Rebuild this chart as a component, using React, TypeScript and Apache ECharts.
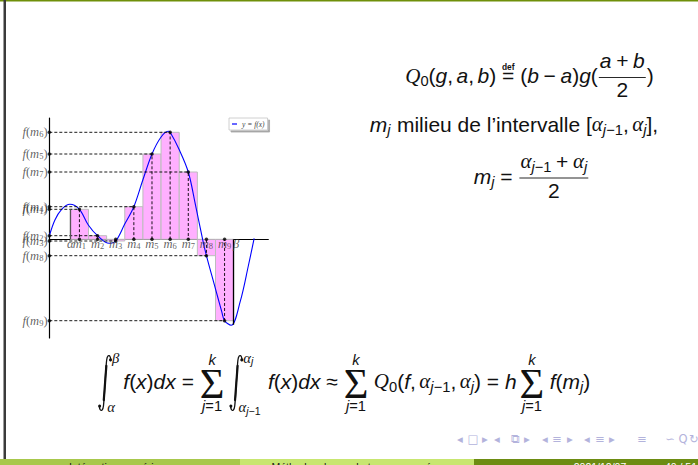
import React, { useEffect, useRef } from 'react';
import * as echarts from 'echarts';

const W = 698;
const H = 465;

// Partition points alpha_0 .. alpha_9 of [alpha, beta]
const alphas = [1.16, 2.16, 3.16, 4.16, 5.16, 6.16, 7.16, 8.16, 9.16, 10.16];
// Midpoints m_j and the values f(m_j)
const mids = [1.66, 2.66, 3.66, 4.66, 5.66, 6.66, 7.66, 8.66, 9.66];
const fMid = [3.0, 0.36, -0.17, 3.26, 8.53, 10.7, 6.73, -1.64, -8.14];
const midIndex = ['1', '2', '3', '4', '5', '6', '7', '8', '9'];
// Sampled points of y = f(x)
const curveX = [0, 0.31, 0.68, 1.14, 1.66, 2.15, 2.66, 3.3, 3.66, 4.15, 4.66, 5.15, 5.66, 6.15, 6.55, 6.66, 7.15, 7.66, 8.05, 8.45, 8.66, 9.05, 9.5, 9.66, 10.02, 10.52, 10.98, 11.29];
const curveY = [0.33, 1.93, 3.0, 3.5, 3.0, 1.43, 0.36, -0.4, -0.17, 1.5, 3.26, 5.9, 8.53, 10.2, 10.8, 10.7, 9.0, 6.73, 3.5, 0, -1.64, -4.24, -7.2, -8.14, -8.6, -6.24, -2.57, 0.1];
const alphaTop = 3.0;
const betaBottom = -8.55;
const xExtent = [0, 12.07];
const yExtent = [-9.87, 12.13];
const legendName = 'y = f(x)';
const footerTexts = ['Intégration numérique', 'Méthodes de quadrature composées', '2021/12/07', '40 / 51'];
const navGlyphs = ['◂', '□', '▸', '◂', '⧉', '▸', '◂', '≡', '▸', '◂', '≡', '▸', '≡', '∽', 'Q', '↻'];
const navX = [460, 473, 485, 497, 515, 527, 545, 557, 570, 587, 600, 612, 642, 670, 683, 694];

const SANS = '"Liberation Sans", Arial, sans-serif';
const SERIF = '"Liberation Serif", "DejaVu Serif", serif';
const INK = '#111111';

type St = { size: number; fam: string; it?: boolean; bold?: boolean };
type Box = { w: number; draw: (x: number, b: number, out: any[]) => void };

let mctx: CanvasRenderingContext2D | null = null;
function measure(s: string, st: St): number {
  if (!mctx) mctx = document.createElement('canvas').getContext('2d');
  mctx!.font = `${st.it ? 'italic ' : ''}${st.bold ? 'bold ' : ''}${st.size}px ${st.fam}`;
  return mctx!.measureText(s).width;
}

function textEl(s: string, st: St, x: number, y: number, fill = INK, align = 'left') {
  return {
    type: 'text', x, y, silent: true,
    style: {
      text: s, fill, fontSize: st.size, fontFamily: st.fam,
      fontStyle: st.it ? 'italic' : 'normal', fontWeight: st.bold ? 'bold' : 'normal',
      align, verticalAlign: 'middle',
    },
  };
}

function txt(s: string, st: St): Box {
  const w = measure(s, st);
  return { w, draw: (x, b, out) => out.push(textEl(s, st, x, b - 0.35 * st.size)) };
}
const sp = (w: number): Box => ({ w, draw: () => {} });
function row(...items: Box[]): Box {
  return {
    w: items.reduce((a, c) => a + c.w, 0),
    draw: (x, b, out) => {
      let cx = x;
      items.forEach((it) => { it.draw(cx, b, out); cx += it.w; });
    },
  };
}
function scripts(base: Box, sup: Box | null, sub: Box | null, up: number, down: number, subKern = 0): Box {
  const w = base.w + Math.max(sup ? sup.w : 0, sub ? sub.w + subKern : 0);
  return {
    w,
    draw: (x, b, out) => {
      base.draw(x, b, out);
      if (sup) sup.draw(x + base.w, b - up, out);
      if (sub) sub.draw(x + base.w + subKern, b + down, out);
    },
  };
}
function frac(num: Box, den: Box, axisH: number, numUp: number, denDown: number): Box {
  const pad = 2;
  const w = Math.max(num.w, den.w) + 2 * pad;
  return {
    w,
    draw: (x, b, out) => {
      const ay = b - axisH;
      out.push({ type: 'line', silent: true, shape: { x1: x + 1, y1: ay, x2: x + w - 1, y2: ay }, style: { stroke: INK, lineWidth: 0.9 } });
      num.draw(x + (w - num.w) / 2, ay - numUp, out);
      den.draw(x + (w - den.w) / 2, ay + denDown, out);
    },
  };
}
function integralSign(sup: Box | null, sub: Box | null, axisH: number, S: number): Box {
  const hI = 2.65 * S;
  const k = hI / 52;
  const gw = 12 * k;
  const supX = gw + 0.5;
  const subX = gw - 4 * k;
  const w = Math.max(gw, sup ? supX + sup.w : 0, sub ? subX + sub.w : 0) + 1;
  return {
    w,
    draw: (x, b, out) => {
      const ay = b - axisH;
      const top = ay - hI / 2;
      const P = (pts: number[][]) => pts.map(([px, py]) => [x + px * k, top + py * k]);
      out.push({ type: 'polyline', silent: true, shape: { points: P([[11.4, 4.4], [10.5, 1.0], [8.8, 0.6], [7.5, 4.5], [6, 26], [4.5, 47.5], [3.2, 51.4], [1.5, 51], [0.6, 47.6]]), smooth: 0.35 }, style: { stroke: INK, fill: 'none', lineWidth: 1.3 } });
      out.push({ type: 'polyline', silent: true, shape: { points: P([[7.2, 10], [6, 26], [4.8, 42]]) }, style: { stroke: INK, fill: 'none', lineWidth: 2.2, lineCap: 'round' } });
      const [e1, e2] = P([[11.1, 4.4], [0.9, 47.6]]);
      out.push({ type: 'circle', silent: true, shape: { cx: e1[0], cy: e1[1], r: 1.5 }, style: { fill: INK } });
      out.push({ type: 'circle', silent: true, shape: { cx: e2[0], cy: e2[1], r: 1.5 }, style: { fill: INK } });
      if (sup) sup.draw(x + supX, ay - 0.95 * S, out);
      if (sub) sub.draw(x + subX, ay + 1.4 * S, out);
    },
  };
}
function bigSum(top: Box, bot: Box, axisH: number, S: number): Box {
  const sig: St = { size: 2.02 * S, fam: SERIF };
  const gw = measure('Σ', sig);
  const w = Math.max(gw, top.w, bot.w);
  return {
    w,
    draw: (x, b, out) => {
      const ay = b - axisH;
      out.push(textEl('Σ', sig, x + (w - gw) / 2, ay));
      top.draw(x + (w - top.w) / 2, ay - 0.86 * S, out);
      bot.draw(x + (w - bot.w) / 2, ay + 1.35 * S, out);
    },
  };
}

function buildMath(): any[] {
  const out: any[] = [];
  const S = 21;
  const rm: St = { size: S, fam: SANS };
  const it: St = { size: S, fam: SANS, it: true };
  const gr: St = { size: S, fam: SERIF, it: true };
  const s1 = 0.7 * S;
  const s2 = 0.5 * S;
  const srm: St = { size: s1, fam: SANS };
  const sit: St = { size: s1, fam: SANS, it: true };
  const sgr: St = { size: s1, fam: SERIF, it: true };
  const ssrm: St = { size: s2, fam: SANS };
  const ssit: St = { size: s2, fam: SANS, it: true };
  const thin = S / 6;
  const med = (4 / 18) * S;
  const thick = (5 / 18) * S;
  const axisH = 0.27 * S;
  const down = 0.15 * S;
  const R = (t: string) => txt(t, rm);
  const I = (t: string) => txt(t, it);
  const G = (t: string) => txt(t, gr);
  const bin = (t: string) => row(sp(med), R(t), sp(med));
  const rel = (bx: Box) => row(sp(thick), bx, sp(thick));
  const comma = () => row(R(','), sp(thin));
  const jm1 = (st: St, st2: St) => row(txt('j', st), txt('−', st2), txt('1', st2));
  const alphaJm1 = () => scripts(G('α'), null, jm1(sit, srm), 0, down);
  const alphaJ = () => scripts(G('α'), null, txt('j', sit), 0, down);
  const mJ = () => scripts(I('m'), null, txt('j', sit), 0, down);
  const Q0 = () => scripts(txt('Q', { size: S, fam: SERIF, it: true }), null, txt('0', srm), 0, down);
  const defEq = (): Box => {
    const e = R('=');
    const d = txt('def', { size: 0.4 * S, fam: SANS, bold: true });
    return { w: e.w, draw: (x, b, o) => { e.draw(x, b, o); d.draw(x + (e.w - d.w) / 2, b - 0.64 * S, o); } };
  };
  const fr = (n: Box, d: Box) => frac(n, d, axisH, 0.45 * S, 0.93 * S);
  const place = (bx: Box, cx: number, base: number) => bx.draw(cx - bx.w / 2, base, out);

  // Q0(g,a,b) def= (b-a) g((a+b)/2)
  const line1 = row(
    Q0(), R('('), I('g'), comma(), I('a'), comma(), I('b'), R(')'),
    rel(defEq()),
    R('('), I('b'), bin('−'), I('a'), R(')'), I('g'), R('('),
    fr(row(I('a'), bin('+'), I('b')), R('2')),
    R(')'),
  );
  place(line1, 529.5, 77.5 + axisH);

  // m_j milieu de l'intervalle [alpha_{j-1}, alpha_j],
  const line2 = row(
    mJ(), sp(0.3 * S), R('milieu de l’intervalle'), sp(0.28 * S),
    R('['), alphaJm1(), comma(), alphaJ(), R(']'), R(','),
  );
  place(line2, 514, 131.5);

  // m_j = (alpha_{j-1} + alpha_j) / 2
  const line3 = row(mJ(), rel(R('=')), fr(row(alphaJm1(), bin('+'), alphaJ()), R('2')));
  place(line3, 531.5, 178 + axisH);

  // composite midpoint rule
  const fx = () => row(I('f'), R('('), I('x'), R(')'), I('d'), I('x'));
  const sumJ = () => bigSum(txt('k', sit), row(txt('j', sit), txt('=', srm), txt('1', srm)), axisH, S);
  const supAj = scripts(txt('α', sgr), null, txt('j', ssit), 0, 0.1 * S);
  const subAjm1 = scripts(txt('α', sgr), null, jm1(ssit, ssrm), 0, 0.1 * S);
  const line4 = row(
    integralSign(txt('β', sgr), txt('α', sgr), axisH, S), sp(3), fx(),
    rel(R('=')), sumJ(), sp(thin + 2),
    integralSign(supAj, subAjm1, axisH, S), sp(thin + 3), fx(),
    rel(R('≈')), sumJ(), sp(thin + 2),
    Q0(), R('('), I('f'), comma(), alphaJm1(), comma(), alphaJ(), R(')'),
    rel(R('=')), I('h'), sp(3), sumJ(), sp(thin + 2), I('f'), R('('), mJ(), R(')'),
  );
  place(line4, 344.5, 383 + axisH);
  return out;
}

function buildChrome(): any[] {
  const els: any[] = [];
  els.push({ type: 'rect', silent: true, shape: { x: 0, y: 0, width: W, height: 1.5 }, style: { fill: '#6f8f0a' } });
  els.push({ type: 'rect', silent: true, shape: { x: 3.5, y: 0, width: 2.5, height: 459 }, style: { fill: '#3b3b3b' } });
  els.push({ type: 'rect', silent: true, shape: { x: 0, y: 459, width: 240, height: 6 }, style: { fill: '#a8c84c' } });
  els.push({ type: 'rect', silent: true, shape: { x: 240, y: 459, width: 234, height: 6 }, style: { fill: '#c8e670' } });
  els.push({ type: 'rect', silent: true, shape: { x: 474, y: 459, width: 224, height: 6 }, style: { fill: '#6d8c12' } });
  const fst: St = { size: 10.5, fam: SANS };
  els.push(textEl(footerTexts[0], fst, 120, 466.5, '#1a1a1a', 'center'));
  els.push(textEl(footerTexts[1], fst, 357, 466.5, '#1a1a1a', 'center'));
  els.push(textEl(footerTexts[2], fst, 600, 466.5, '#ffffff', 'center'));
  els.push(textEl(footerTexts[3], fst, 681, 466.5, '#ffffff', 'center'));
  const nst: St = { size: 11.5, fam: '"DejaVu Sans", sans-serif' };
  navGlyphs.forEach((g, i) => els.push(textEl(g, nst, navX[i], 439, '#b3b3dc', 'center')));
  return els;
}

const labelColor = '#3a3a3a';
const labelRich = {
  i: { fontFamily: SERIF, fontStyle: 'italic', fontSize: 12.5, color: labelColor },
  r: { fontFamily: SERIF, fontSize: 12.5, color: labelColor },
  s: { fontFamily: SERIF, fontSize: 8.5, color: labelColor, verticalAlign: 'bottom', lineHeight: 7 },
};

// x-axis labels: alpha, m_1..m_9, beta
const xLabelPos = [alphas[0], ...mids, alphas[alphas.length - 1]];
const xLabelText = ['{i|α}', ...midIndex.map((d) => `{i|m}{s|${d}}`), '{i|β}'];

function buildOption(): any {
  const axisLine = { show: true, lineStyle: { color: '#000', width: 1.2 } };
  return {
    animation: false,
    backgroundColor: '#ffffff',
    grid: { left: 49.3, top: 118, width: 219, height: 220, containLabel: false, outerBoundsMode: 'none' },
    xAxis: {
      type: 'value', min: xExtent[0], max: xExtent[1],
      axisLine: { ...axisLine, onZero: true }, axisTick: { show: false }, axisLabel: { show: false }, splitLine: { show: false },
    },
    yAxis: {
      type: 'value', min: yExtent[0], max: yExtent[1],
      axisLine: { ...axisLine, onZero: false }, axisTick: { show: false }, axisLabel: { show: false }, splitLine: { show: false },
    },
    legend: {
      data: [legendName], left: 229, top: 118, padding: [2, 3], itemWidth: 5, itemHeight: 1.2, icon: 'rect',
      backgroundColor: '#ffffff', borderColor: '#c4c4c4', borderWidth: 0.8,
      shadowColor: 'rgba(0,0,0,0.35)', shadowBlur: 1, shadowOffsetX: 2, shadowOffsetY: 2,
      selectedMode: false,
      textStyle: { fontFamily: SERIF, fontStyle: 'italic', fontSize: 7.5, color: '#444' },
    },
    graphic: { elements: [...buildChrome(), ...buildMath()] },
    series: [
      {
        type: 'custom', name: 'rectangles', silent: true, z: 1,
        encode: { x: [0, 1], y: 2 },
        data: mids.map((_, j) => [alphas[j], alphas[j + 1], fMid[j]]),
        renderItem: (_p: any, api: any) => {
          const a = api.coord([api.value(0), 0]);
          const b = api.coord([api.value(1), api.value(2)]);
          return {
            type: 'rect',
            shape: { x: a[0], y: Math.min(a[1], b[1]), width: b[0] - a[0], height: Math.abs(b[1] - a[1]) },
            style: { fill: '#ffb0ff', stroke: '#bdbdbd', lineWidth: 1 },
          };
        },
      },
      {
        type: 'line', name: legendName, z: 3, smooth: 0.35, symbol: 'none', showSymbol: false,
        data: curveX.map((x, i) => [x, curveY[i]]),
        lineStyle: { color: '#0000ff', width: 1.1 }, itemStyle: { color: '#0000ff' },
      },
      {
        type: 'lines', coordinateSystem: 'cartesian2d', polyline: true, silent: true, z: 4,
        data: mids.map((m, j) => ({ coords: [[0, fMid[j]], [m, fMid[j]], [m, 0]] })),
        lineStyle: { color: '#000', width: 0.9, type: [3, 2], opacity: 1 },
      },
      {
        type: 'lines', coordinateSystem: 'cartesian2d', silent: true, z: 4,
        data: [
          { coords: [[alphas[0], 0], [alphas[0], alphaTop]], lineStyle: { color: '#555' } },
          { coords: [[alphas[alphas.length - 1], 0], [alphas[alphas.length - 1], betaBottom]], lineStyle: { color: '#000' } },
        ],
        lineStyle: { width: 1.3, opacity: 1 },
      },
      {
        type: 'scatter', silent: true, z: 5, symbolSize: 3.5, itemStyle: { color: '#000' },
        data: mids.map((m, j) => [m, fMid[j]]),
      },
      {
        type: 'scatter', silent: true, z: 5, symbolSize: 3.5, itemStyle: { color: '#000' },
        data: fMid.map((f) => [0, f]),
        label: {
          show: true, position: 'left', distance: 0, rich: labelRich,
          formatter: (p: any) => `{i|f}{r|(}{i|m}{s|${midIndex[p.dataIndex]}}{r|)}`,
        },
      },
      {
        type: 'scatter', silent: true, z: 5, itemStyle: { color: '#000' },
        data: xLabelPos.map((x, i) => ({
          value: [x, 0],
          symbolSize: i === 0 || i === xLabelPos.length - 1 ? 0 : 3.5,
          label: { offset: [i === xLabelPos.length - 1 ? 2.5 : 0, 4.5] },
        })),
        label: {
          show: true, position: 'inside', rich: labelRich,
          formatter: (p: any) => xLabelText[p.dataIndex],
        },
      },
    ],
  };
}

export default function App() {
  const ref = useRef<HTMLDivElement>(null);
  useEffect(() => {
    if (!ref.current) return;
    const chart = echarts.init(ref.current, undefined, { renderer: 'svg', width: W, height: H });
    chart.setOption(buildOption());
    return () => chart.dispose();
  }, []);
  return <div ref={ref} style={{ position: 'fixed', left: 0, top: 0, width: W, height: H, background: '#fff' }} />;
}
